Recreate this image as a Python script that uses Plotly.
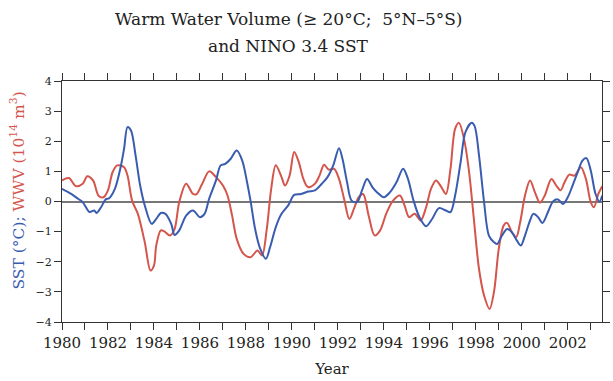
import plotly.graph_objects as go

sst_t = [1980.0, 1980.4, 1980.7, 1980.9, 1981.2, 1981.4, 1981.5, 1981.7, 1981.9, 1982.05, 1982.3, 1982.55, 1982.7, 1982.85, 1983.0, 1983.2, 1983.4, 1983.6, 1983.9, 1984.1, 1984.3, 1984.5, 1984.75, 1984.9, 1985.1, 1985.4, 1985.7, 1986.0, 1986.2, 1986.4, 1986.7, 1986.9, 1987.1, 1987.34, 1987.6, 1987.84, 1988.05, 1988.2, 1988.4, 1988.6, 1988.87, 1989.05, 1989.3, 1989.55, 1989.84, 1990.1, 1990.4, 1990.7, 1991.0, 1991.3, 1991.55, 1991.8, 1992.05, 1992.2, 1992.4, 1992.6, 1992.84, 1993.05, 1993.27, 1993.5, 1993.7, 1994.0, 1994.27, 1994.55, 1994.84, 1995.05, 1995.27, 1995.55, 1995.84, 1996.1, 1996.4, 1996.7, 1996.9, 1997.1, 1997.34, 1997.55, 1997.82, 1997.95, 1998.14, 1998.36, 1998.57, 1998.79, 1998.93, 1999.14, 1999.36, 1999.57, 1999.79, 1999.96, 2000.14, 2000.36, 2000.5, 2000.71, 2000.9, 2001.14, 2001.36, 2001.57, 2001.79, 2002.0, 2002.21, 2002.43, 2002.64, 2002.81, 2003.0, 2003.21, 2003.38, 2003.5]
sst_v = [0.42, 0.25, 0.09, -0.02, -0.35, -0.30, -0.38, -0.19, 0.07, 0.11, 0.42, 1.14, 1.75, 2.47, 2.36, 1.53, 0.53, -0.13, -0.74, -0.58, -0.38, -0.41, -0.74, -1.11, -0.96, -0.47, -0.30, -0.52, -0.41, 0.09, 0.70, 1.20, 1.25, 1.42, 1.69, 1.36, 0.64, 0.03, -0.91, -1.52, -1.90, -1.52, -0.85, -0.41, -0.13, 0.22, 0.25, 0.33, 0.37, 0.59, 0.81, 1.20, 1.77, 1.42, 0.64, 0.03, -0.02, 0.37, 0.75, 0.48, 0.31, 0.14, 0.31, 0.64, 1.09, 0.75, 0.09, -0.52, -0.82, -0.58, -0.22, -0.30, -0.35, 0.20, 1.31, 2.30, 2.61, 2.50, 1.53, -0.02, -1.13, -1.35, -1.41, -1.13, -0.91, -1.02, -1.30, -1.46, -1.13, -0.63, -0.41, -0.52, -0.71, -0.35, 0.0, 0.07, -0.08, 0.14, 0.53, 0.97, 1.36, 1.44, 1.03, 0.25, 0.0, 0.2]

wwv_t = [1980.0, 1980.3, 1980.6, 1980.9, 1981.1, 1981.35, 1981.6, 1981.8, 1982.0, 1982.2, 1982.4, 1982.7, 1982.85, 1983.05, 1983.3, 1983.6, 1983.85, 1984.0, 1984.1, 1984.3, 1984.45, 1984.7, 1984.9, 1985.1, 1985.4, 1985.7, 1985.85, 1986.1, 1986.4, 1986.7, 1987.0, 1987.2, 1987.4, 1987.6, 1987.9, 1988.2, 1988.5, 1988.7, 1988.9, 1989.1, 1989.3, 1989.55, 1989.7, 1989.9, 1990.1, 1990.3, 1990.5, 1990.7, 1991.0, 1991.2, 1991.4, 1991.6, 1991.84, 1992.05, 1992.27, 1992.5, 1992.7, 1992.9, 1993.1, 1993.34, 1993.6, 1993.84, 1994.1, 1994.4, 1994.7, 1994.9, 1995.1, 1995.34, 1995.6, 1995.84, 1996.05, 1996.27, 1996.5, 1996.7, 1996.9, 1997.1, 1997.27, 1997.5, 1997.71, 1997.93, 1998.14, 1998.36, 1998.6, 1998.79, 1999.0, 1999.21, 1999.36, 1999.57, 1999.76, 1999.93, 2000.14, 2000.36, 2000.57, 2000.79, 2001.0, 2001.29, 2001.5, 2001.69, 2001.86, 2002.07, 2002.29, 2002.57, 2002.79, 2003.0, 2003.14, 2003.33, 2003.5]
wwv_v = [0.70, 0.78, 0.51, 0.59, 0.84, 0.70, 0.18, 0.14, 0.37, 0.97, 1.20, 1.14, 0.86, 0.03, -0.41, -1.35, -2.29, -2.13, -1.46, -0.96, -0.99, -1.13, -0.91, -0.02, 0.59, 0.25, 0.24, 0.59, 1.00, 0.81, 0.53, 0.20, -0.47, -1.24, -1.74, -1.85, -1.63, -1.79, -0.96, 0.42, 1.20, 0.81, 0.53, 0.86, 1.64, 1.31, 0.75, 0.48, 0.59, 0.86, 1.22, 1.06, 1.08, 0.75, 0.09, -0.58, -0.24, 0.14, 0.25, -0.47, -1.13, -0.96, -0.41, 0.03, 0.20, -0.13, -0.52, -0.41, -0.63, -0.19, 0.42, 0.70, 0.48, 0.25, 1.09, 2.41, 2.61, 2.03, 0.97, -0.69, -2.24, -3.12, -3.57, -3.01, -1.57, -0.80, -0.71, -1.02, -1.18, -0.69, 0.20, 0.70, 0.31, -0.04, 0.20, 0.75, 0.53, 0.37, 0.64, 0.89, 0.86, 1.14, 0.75, -0.02, -0.19, 0.25, 0.51]

years = list(range(1980, 2004))
year_labels = [str(y) if y % 2 == 0 else "" for y in years]
y_ticks = [-4, -3, -2, -1, 0, 1, 2, 3, 4]
y_labels = ["\u22124", "\u22123", "\u22122", "\u22121", "0", "1", "2", "3", "4"]
title_lines = ["Warm Water Volume (\u2265 20\u00b0C;  5\u00b0N\u20135\u00b0S)", "and NINO 3.4 SST"]

BLUE = "#3a5cb0"
RED = "#d4554b"
AX = "#333333"
SERIF = "DejaVu Serif"

fig = go.Figure()
fig.add_trace(go.Scatter(x=wwv_t, y=wwv_v, mode="lines",
                         line=dict(color=RED, width=2, shape="spline", smoothing=0.9),
                         hoverinfo="skip", showlegend=False))
fig.add_trace(go.Scatter(x=sst_t, y=sst_v, mode="lines",
                         line=dict(color=BLUE, width=2, shape="spline", smoothing=0.9),
                         hoverinfo="skip", showlegend=False))

fig.update_layout(
    width=613, height=381,
    margin=dict(l=62, r=3, t=81, b=59),
    paper_bgcolor="white", plot_bgcolor="white",
    font=dict(family=SERIF, color="#222"),
    xaxis=dict(range=[1980, 2003.49], tickvals=years, ticktext=year_labels,
               ticks="outside", ticklen=7, tickcolor=AX, tickwidth=1,
               showline=True, linecolor=AX, linewidth=1, mirror="allticks",
               showgrid=False, zeroline=False,
               tickfont=dict(family=SERIF, size=15, color="#222"),
               title=dict(text="Year", font=dict(family=SERIF, size=15, color="#222"), standoff=12)),
    yaxis=dict(range=[-4, 4], tickvals=y_ticks, ticktext=y_labels,
               ticks="outside", ticklen=7, tickcolor=AX, tickwidth=1,
               showline=True, linecolor=AX, linewidth=1, mirror="allticks",
               showgrid=False, zeroline=True, zerolinecolor="#777", zerolinewidth=1.5,
               tickfont=dict(family=SERIF, size=11, color="#222")),
)

# two-line title placed by pixel offset above the plot
for line, shift in zip(title_lines, [62, 35]):
    fig.add_annotation(text=line, xref="paper", yref="paper", x=(292 - 62) / 548, y=1,
                       xanchor="center", yanchor="middle", yshift=shift, showarrow=False,
                       font=dict(family=SERIF, size=17, color="#222"))

fig.add_annotation(
    text=f"<span style='color:{BLUE}'>SST (\u00b0C);</span> <span style='color:{RED}'>WWV (10<sup>14</sup> m<sup>3</sup>)</span>",
    xref="paper", yref="paper", x=0, y=0.5, xanchor="center", yanchor="middle",
    xshift=-44, yshift=11, textangle=-90, showarrow=False,
    font=dict(family=SERIF, size=15.5))

fig.write_html("out.html")
